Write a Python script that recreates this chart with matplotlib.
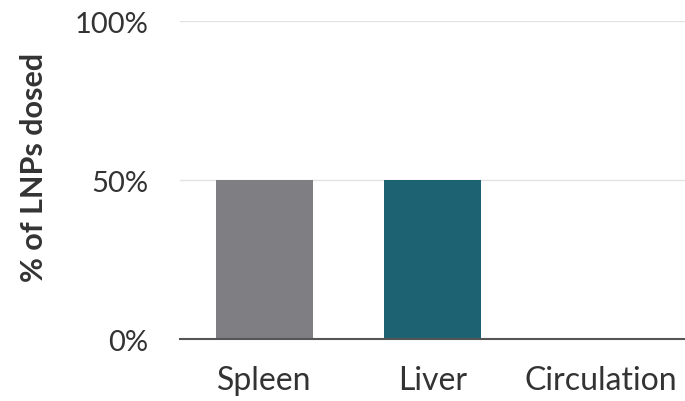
import matplotlib
matplotlib.use("Agg")
import matplotlib.pyplot as plt
from matplotlib.ticker import PercentFormatter

categories = ["Spleen", "Liver", "Circulation"]
values = [50, 50, 0]
colors = ["#7f7f83", "#1d6272", "#1d6272"]
y_ticks = [0, 50, 100]

plt.rcParams["font.family"] = ["Lato", "DejaVu Sans"]

fig = plt.figure(figsize=(6.85, 4.02), dpi=100)
ax = fig.add_axes([0.2628, 0.154, 0.7372, 0.791])

ax.bar(range(len(categories)), values, width=0.575, color=colors, zorder=2)

ax.set_xlim(-0.5, len(categories) - 0.5)
ax.set_ylim(0, 100)
ax.set_yticks(y_ticks)
ax.yaxis.set_major_formatter(PercentFormatter(decimals=0))
ax.set_xticks(range(len(categories)))
ax.set_xticklabels(categories)

ax.grid(axis="y", color="#e2e2e2", linewidth=1, zorder=0)
ax.set_axisbelow(True)
for side in ("top", "right", "left"):
    ax.spines[side].set_visible(False)
ax.spines["bottom"].set_color("#555555")
ax.spines["bottom"].set_linewidth(1.5)
ax.spines["bottom"].set_zorder(3)

ax.tick_params(axis="both", length=0, labelcolor="#333333")
ax.tick_params(axis="y", labelsize=21, pad=23)
ax.tick_params(axis="x", labelsize=23, pad=19)

ax.set_ylabel("% of LNPs dosed", fontsize=22, fontweight="bold",
              color="#333333")
ax.yaxis.set_label_coords(-0.262, 0.542)

fig.savefig("out.png", dpi=100)
